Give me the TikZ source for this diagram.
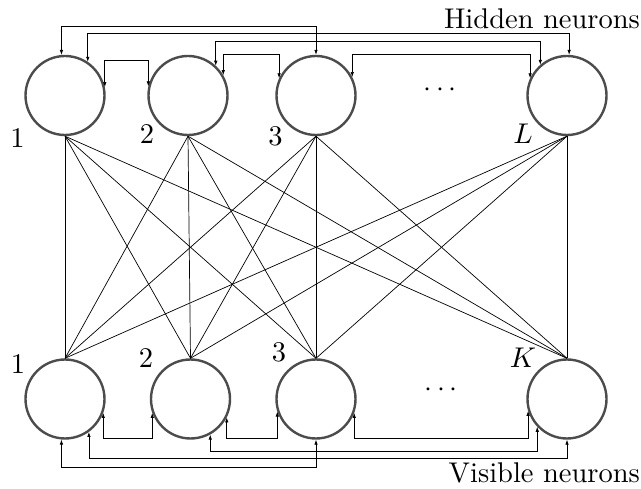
\documentclass[tikz,border=0pt]{standalone}
\usetikzlibrary{arrows.meta}
\begin{document}
\begin{tikzpicture}[x=1pt,y=-1pt,
  neuron/.style={circle,draw=black!70,line width=2.4pt,minimum size=79pt,inner sep=0pt},
  link/.style={line width=0.7pt,black},
  wire/.style={line width=0.7pt,black,{Latex[length=5pt,width=3.5pt]}-{Latex[length=5pt,width=3.5pt]}},
  lbl/.style={font=\fontsize{10}{12}\selectfont,scale=2.85,inner sep=0pt,anchor=base}]
\useasboundingbox (0,0) rectangle (641,489);
% hidden layer
\node[neuron] (h1) at (65,95.5) {};
\node[neuron] (h2) at (188,95.5) {};
\node[neuron] (h3) at (316,95.5) {};
\node[neuron] (hL) at (567,95.5) {};
% visible layer
\node[neuron] (v1) at (65,399) {};
\node[neuron] (v2) at (190.5,399) {};
\node[neuron] (v3) at (316,399) {};
\node[neuron] (vK) at (567,399) {};
% labels
\node[lbl] (lh1) at (17.5,148) {$1$};
\node[lbl] (lh2) at (147,144) {$2$};
\node[lbl] (lh3) at (275.5,146) {$3$};
\node[lbl] (lhL) at (523,144) {$L$};
\node[lbl] (lv1) at (18,374) {$1$};
\node[lbl] (lv2) at (146,368) {$2$};
\node[lbl] (lv3) at (279,362) {$3$};
\node[lbl] (lvK) at (523,368) {$K$};
\node[lbl] (dh) at (440,97) {$\cdots$};
\node[lbl] (dv) at (441,397) {$\cdots$};
\node[lbl,anchor=base east] (th) at (640.5,28.3) {Hidden neurons};
\node[lbl,anchor=base east] (tv) at (640.5,482.3) {Visible neurons};
% bipartite connections
\foreach \h in {h1,h2,h3,hL}
  \foreach \v in {v1,v2,v3,vK}
    \draw[link] (\h.south) -- (\v.north);
% hidden recurrent wires
\coordinate (ha) at (0,26.7);
\coordinate (hb) at (0,33.5);
\coordinate (hc) at (0,41);
\coordinate (hd) at (0,54.3);
\coordinate (he) at (0,60);
\draw[wire] (h1.95.6) -- (h1.95.6 |- ha) -| (h3.north);
\draw[wire] (h1.56.8) -- (h1.56.8 |- hb) -| (hL.87);
\draw[wire] (h2.47.2) -- (h2.47.2 |- hc) -| (hL.131.5);
\draw[wire] (h2.30) -- (h2.30 |- hd) -| (h3.155);
\draw[wire] (h3.27) -- (h3.27 |- hd) -| (hL.155);
\draw[wire] (h1.12) -- (h1.12 |- he) -| (h2.167);
% visible recurrent wires
\coordinate (va) at (0,438.7);
\coordinate (vb) at (0,451);
\coordinate (vc) at (0,458.3);
\coordinate (vd) at (0,467.7);
\draw[wire] (v1.-20) -- (v1.-20 |- va) -| (v2.-160);
\draw[wire] (v2.-27) -- (v2.-27 |- va) -| (v3.-162);
\draw[wire] (v3.-20) -- (v3.-20 |- va) -| (vK.-163);
\draw[wire] (v2.-61.4) -- (v2.-61.4 |- vb) -| (vK.-137.4);
\draw[wire] (v1.-54) -- (v1.-54 |- vc) -| (vK.south);
\draw[wire] (v1.-95.6) -- (v1.-95.6 |- vd) -| (v3.south);
\end{tikzpicture}
\end{document}
